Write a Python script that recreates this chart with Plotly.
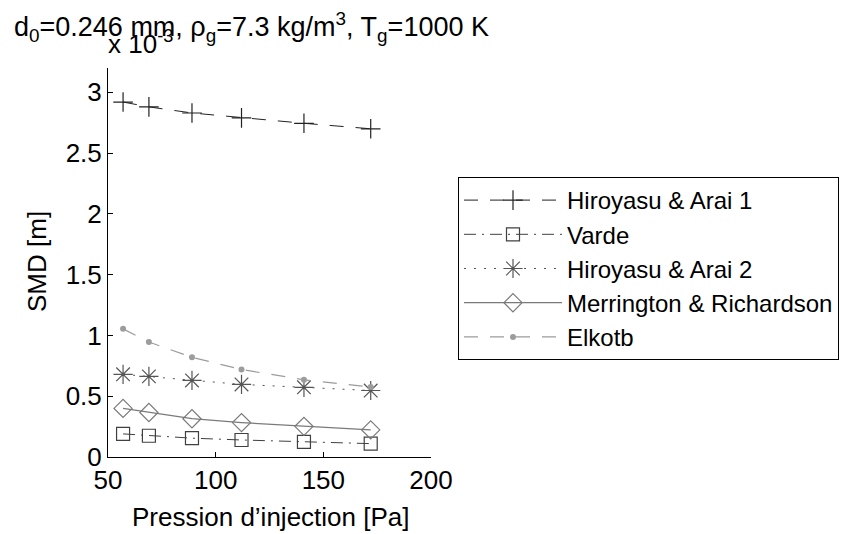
import plotly.graph_objects as go

pressure = [57, 69, 89, 112, 141, 172]
hiroyasu1 = [2.92, 2.88, 2.83, 2.79, 2.745, 2.70]
varde = [0.19, 0.175, 0.155, 0.14, 0.125, 0.11]
hiroyasu2 = [0.68, 0.663, 0.63, 0.597, 0.573, 0.547]
merrington = [0.40, 0.366, 0.315, 0.283, 0.252, 0.223]
elkotb = [1.054, 0.946, 0.82, 0.72, 0.635, 0.575]

FONT = "Liberation Sans, Arial, sans-serif"

fig = go.Figure()

fig.add_trace(go.Scatter(
    x=pressure, y=hiroyasu1, name="Hiroyasu &amp; Arai 1", mode="lines+markers",
    line=dict(color="#222222", width=1, dash="14px,12px"),
    marker=dict(symbol="cross-thin", size=14, line=dict(color="#222222", width=1.2))))
fig.add_trace(go.Scatter(
    x=pressure, y=varde, name="Varde", mode="lines+markers",
    line=dict(color="#404040", width=1, dash="12px,6px,2px,6px"),
    marker=dict(symbol="square-open", size=13, color="#404040", line=dict(width=1.2))))
fig.add_trace(go.Scatter(
    x=pressure, y=hiroyasu2, name="Hiroyasu &amp; Arai 2", mode="lines+markers",
    line=dict(color="#555555", width=1, dash="2px,8px"),
    marker=dict(symbol="asterisk-open", size=16, color="#555555", line=dict(width=1.2, color="#555555"))))
fig.add_trace(go.Scatter(
    x=pressure, y=merrington, name="Merrington &amp; Richardson", mode="lines+markers",
    line=dict(color="#7a7a7a", width=1.2),
    marker=dict(symbol="diamond-open", size=14, color="#7a7a7a", line=dict(width=1.2))))
fig.add_trace(go.Scatter(
    x=pressure, y=elkotb, name="Elkotb", mode="lines+markers",
    line=dict(color="#9c9c9c", width=1.2, dash="14px,12px"),
    marker=dict(symbol="circle", size=6, color="#9c9c9c")))

L, R, T, B = 108, 431, 68, 457
W, H = 857, 534
pw, ph = R - L, B - T

def px(xp):
    return (xp - L) / pw

def py(yp):
    return (B - yp) / ph

fig.update_layout(
    width=W, height=H,
    margin=dict(l=L, r=W - R, t=T, b=H - B, autoexpand=False),
    paper_bgcolor="white", plot_bgcolor="white",
    font=dict(family=FONT, size=26, color="black"),
    showlegend=True,
    legend=dict(xref="container", yref="container",
                x=458 / W, y=1 - 177 / H, xanchor="left", yanchor="top",
                bordercolor="black", borderwidth=1, bgcolor="white",
                itemwidth=98, tracegroupgap=0,
                font=dict(family=FONT, size=24, color="black")),
    xaxis=dict(range=[50, 200], tickvals=[50, 100, 150, 200], ticks="inside", ticklen=5,
               tickcolor="black", showline=True, linecolor="black", linewidth=1,
               showgrid=False, zeroline=False, mirror=False,
               tickfont=dict(family=FONT, size=26)),
    yaxis=dict(range=[0, 3.2], tickvals=[0, 0.5, 1, 1.5, 2, 2.5, 3],
               ticktext=["0", "0.5", "1", "1.5", "2", "2.5", "3"],
               ticks="inside", ticklen=5,
               tickcolor="black", showline=True, linecolor="black", linewidth=1,
               showgrid=False, zeroline=False, mirror=False,
               tickfont=dict(family=FONT, size=26)),
)

fig.add_annotation(
    text="d<sub>0</sub>=0.246 mm, ρ<sub>g</sub>=7.3 kg/m<sup>3</sup>, T<sub>g</sub>=1000 K",
    xref="paper", yref="paper", x=px(251), y=py(27), xanchor="center", yanchor="middle",
    showarrow=False, font=dict(family=FONT, size=27))
fig.add_annotation(
    text="x 10<sup>-3</sup>", xref="paper", yref="paper", x=px(106), y=py(42),
    xanchor="left", yanchor="middle", showarrow=False, font=dict(family=FONT, size=26))
fig.add_annotation(
    text="SMD [m]", textangle=-90, xref="paper", yref="paper", x=px(37), y=py(262),
    xanchor="center", yanchor="middle", showarrow=False, font=dict(family=FONT, size=26))
fig.add_annotation(
    text="Pression d’injection [Pa]", xref="paper", yref="paper", x=px(270), y=py(517),
    xanchor="center", yanchor="middle", showarrow=False, font=dict(family=FONT, size=26))

fig.write_html("out.html", config={"displayModeBar": False},
               post_script="document.body.style.margin='0';document.body.style.overflow='hidden';")
